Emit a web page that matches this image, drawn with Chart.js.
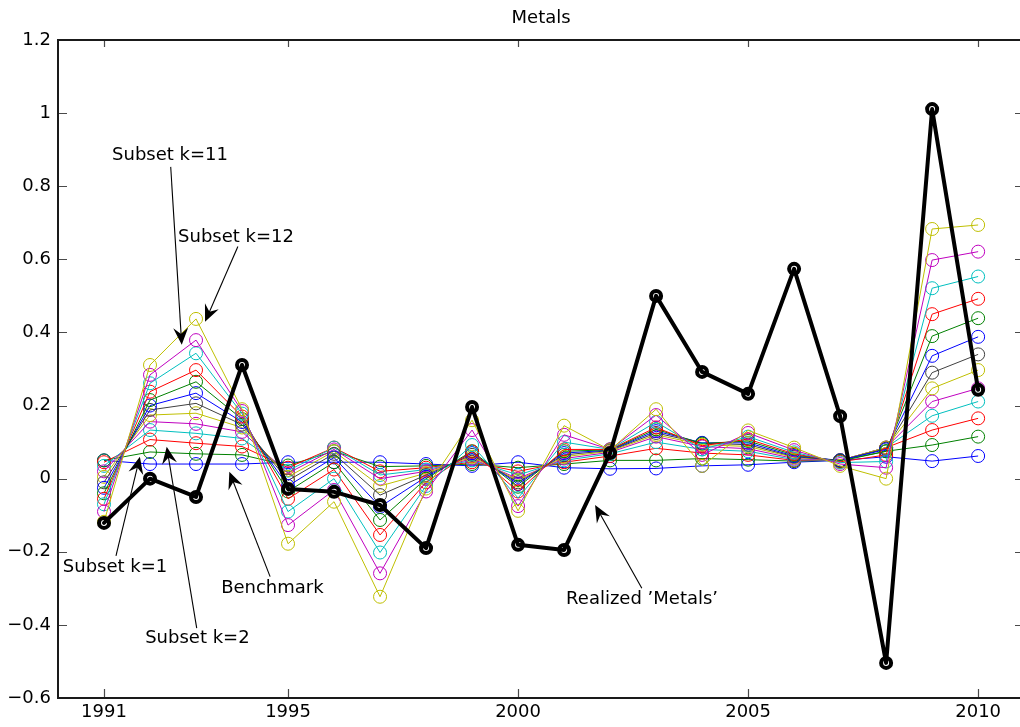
<!DOCTYPE html>
<html>
<head>
<meta charset="utf-8">
<title>Metals</title>
<script src="https://cdn.jsdelivr.net/npm/chart.js@4.4.1/dist/chart.umd.min.js"></script>
<style>
  html, body { margin: 0; padding: 0; background: #ffffff; overflow: hidden; }
  #chart { display: block; width: 1020px; height: 727px; }
</style>
</head>
<body>
<canvas id="chart" width="1020" height="727"></canvas>
<script>
// ---- data -------------------------------------------------------------
const years = [1991, 1992, 1993, 1994, 1995, 1996, 1997, 1998, 1999, 2000,
               2001, 2002, 2003, 2004, 2005, 2006, 2007, 2008, 2009, 2010];
const xTickYears = [1991, 1995, 2000, 2005, 2010];
const yTickValues = [-0.6, -0.4, -0.2, 0, 0.2, 0.4, 0.6, 0.8, 1, 1.2];

const realized  = [-0.121, 0.000, -0.050, 0.311, -0.028, -0.036, -0.072, -0.190, 0.196, -0.181,
                   -0.195, 0.070, 0.500, 0.292, 0.232, 0.574, 0.171, -0.504, 1.011, 0.243];
const benchmark = [0.050, 0.040, 0.040, 0.040, 0.045, 0.045, 0.045, 0.040, 0.035, 0.045,
                   0.030, 0.027, 0.028, 0.035, 0.038, 0.045, 0.050, 0.060, 0.048, 0.062];
const subsetK1  = [0.050, 0.073, 0.068, 0.065, 0.036, 0.075, 0.033, 0.035, 0.040, 0.030,
                   0.040, 0.050, 0.050, 0.055, 0.052, 0.048, 0.050, 0.075, 0.092, 0.115];
const subsetK2  = [0.045, 0.107, 0.097, 0.088, 0.030, 0.085, 0.020, 0.030, 0.045, 0.020,
                   0.045, 0.062, 0.083, 0.070, 0.065, 0.050, 0.050, 0.085, 0.133, 0.165];
const subsetK3  = [0.035, 0.133, 0.124, 0.110, 0.022, 0.085, 0.010, 0.025, 0.050, 0.010,
                   0.050, 0.068, 0.100, 0.080, 0.075, 0.052, 0.050, 0.085, 0.172, 0.211];
const subsetK4  = [0.020, 0.156, 0.150, 0.128, 0.015, 0.080, 0.000, 0.020, 0.055, 0.000,
                   0.055, 0.072, 0.115, 0.088, 0.082, 0.055, 0.050, 0.085, 0.211, 0.247];
const subsetK5  = [0.005, 0.174, 0.179, 0.140, 0.005, 0.075, -0.020, 0.015, 0.060, -0.005,
                   0.060, 0.075, 0.120, 0.093, 0.088, 0.058, 0.050, 0.085, 0.247, 0.297];
const subsetK6  = [-0.010, 0.188, 0.206, 0.148, -0.005, 0.068, -0.045, 0.010, 0.065, -0.010,
                   0.065, 0.077, 0.125, 0.097, 0.093, 0.060, 0.050, 0.082, 0.290, 0.340];
const subsetK7  = [-0.025, 0.200, 0.234, 0.155, -0.020, 0.058, -0.077, 0.005, 0.070, -0.015,
                   0.070, 0.078, 0.130, 0.098, 0.098, 0.062, 0.050, 0.080, 0.336, 0.388];
const subsetK8  = [-0.040, 0.215, 0.265, 0.163, -0.035, 0.045, -0.113, 0.000, 0.075, -0.022,
                   0.075, 0.079, 0.135, 0.096, 0.103, 0.065, 0.048, 0.075, 0.390, 0.439];
const subsetK9  = [-0.055, 0.238, 0.297, 0.170, -0.055, 0.025, -0.154, -0.010, 0.074, -0.035,
                   0.080, 0.080, 0.140, 0.090, 0.108, 0.068, 0.046, 0.065, 0.450, 0.492];
const subsetK10 = [-0.070, 0.261, 0.343, 0.178, -0.090, 0.000, -0.202, -0.020, 0.092, -0.053,
                   0.100, 0.080, 0.155, 0.080, 0.115, 0.072, 0.044, 0.047, 0.521, 0.553];
const subsetK11 = [-0.090, 0.284, 0.379, 0.185, -0.127, -0.031, -0.259, -0.035, 0.133, -0.075,
                   0.120, 0.080, 0.174, 0.065, 0.125, 0.078, 0.040, 0.030, 0.598, 0.621];
const subsetK12 = [-0.118, 0.311, 0.437, 0.190, -0.178, -0.063, -0.323, -0.027, 0.160, -0.088,
                   0.145, 0.078, 0.190, 0.035, 0.132, 0.085, 0.035, 0.000, 0.683, 0.694];

// benchmark first, then subsets k = 1..12 (same colour cycle as the plot order)
const forecastSeries = [benchmark, subsetK1, subsetK2, subsetK3, subsetK4, subsetK5, subsetK6,
                        subsetK7, subsetK8, subsetK9, subsetK10, subsetK11, subsetK12];
const forecastNames = ['Benchmark', 'Subset k=1', 'Subset k=2', 'Subset k=3', 'Subset k=4',
                       'Subset k=5', 'Subset k=6', 'Subset k=7', 'Subset k=8', 'Subset k=9',
                       'Subset k=10', 'Subset k=11', 'Subset k=12'];
const colorCycle = ['#0000ff', '#008000', '#ff0000', '#00bfbf', '#bf00bf', '#bfbf00', '#404040'];

// visible x window (the right side of the box is cut by the canvas edge)
const xAxisMin = 1990;
const xAxisMax = 2010.91;

// callouts: text centre, arrow tail and arrow tip, all in data units (year, value)
const callouts = [
  { text: 'Subset k=11',        at: [1992.435, 0.884], tail: [1992.45, 0.853], tip: [1992.69, 0.366] },
  { text: 'Subset k=12',        at: [1993.87, 0.661],  tail: [1993.91, 0.635], tip: [1993.196, 0.429] },
  { text: 'Subset k=1',         at: [1991.24, -0.243], tail: [1991.26, -0.211], tip: [1991.78, 0.060] },
  { text: 'Subset k=2',         at: [1993.03, -0.438], tail: [1993.015, -0.409], tip: [1992.363, 0.0875] },
  { text: 'Benchmark',          at: [1994.66, -0.299], tail: [1994.61, -0.268], tip: [1993.724, 0.019] },
  { text: 'Realized \u2019Metals\u2019', at: [2002.696, -0.329], tail: [2002.69, -0.300], tip: [2001.674, -0.072] }
];

const FONT = '"DejaVu Sans", "Liberation Sans", Arial, sans-serif';

// ---- datasets ---------------------------------------------------------
const toPoints = arr => arr.map((v, i) => ({ x: years[i], y: v }));

const datasets = [{
  label: 'Realized Metals',
  data: toPoints(realized),
  borderColor: '#000000',
  borderWidth: 4,
  borderJoinStyle: 'round',
  borderCapStyle: 'round',
  pointRadius: 5,
  pointBorderWidth: 4,
  pointBackgroundColor: 'rgba(0,0,0,0)',
  pointBorderColor: '#000000',
  order: 0
}];
forecastSeries.forEach((arr, k) => {
  const col = colorCycle[k % colorCycle.length];
  datasets.push({
    label: forecastNames[k],
    data: toPoints(arr),
    borderColor: col,
    borderWidth: 1,
    borderJoinStyle: 'round',
    pointRadius: 6.5,
    pointBorderWidth: 1,
    pointBackgroundColor: 'rgba(0,0,0,0)',
    pointBorderColor: col,
    order: forecastSeries.length - k
  });
});

// ---- axes box, inward ticks, title and callouts -----------------------
function drawArrow(ctx, x0, y0, x1, y1) {
  const ang = Math.atan2(y1 - y0, x1 - x0);
  ctx.beginPath();
  ctx.moveTo(x0, y0);
  ctx.lineTo(x1 - Math.cos(ang) * 10, y1 - Math.sin(ang) * 10);
  ctx.stroke();
  ctx.save();
  ctx.translate(x1, y1);
  ctx.rotate(ang);
  ctx.beginPath();
  ctx.moveTo(0, 0);
  ctx.lineTo(-17, -7.5);
  ctx.lineTo(-11, 0);
  ctx.lineTo(-17, 7.5);
  ctx.closePath();
  ctx.fill();
  ctx.restore();
}

const matlabFrame = {
  id: 'matlabFrame',
  afterDatasetsDraw(chart) {
    const { ctx, chartArea: a, scales: { x, y } } = chart;
    ctx.save();

    // inward tick marks: bottom, top, left, and the stubs reaching in from the cut right side
    ctx.strokeStyle = '#4a4a4a';
    ctx.lineWidth = 1.2;
    const len = 9;
    ctx.beginPath();
    xTickYears.forEach(v => {
      const px = Math.round(x.getPixelForValue(v)) + 0.5;
      ctx.moveTo(px, a.bottom); ctx.lineTo(px, a.bottom - len);
      ctx.moveTo(px, a.top);    ctx.lineTo(px, a.top + len - 2);
    });
    yTickValues.forEach(v => {
      const py = Math.round(y.getPixelForValue(v)) + 0.5;
      ctx.moveTo(a.left, py);  ctx.lineTo(a.left + len, py);
      ctx.moveTo(a.right, py); ctx.lineTo(a.right - 5, py);
    });
    ctx.stroke();

    // axes lines (left, top, bottom)
    ctx.strokeStyle = '#1a1a1a';
    ctx.lineWidth = 2;
    ctx.beginPath();
    ctx.moveTo(a.right + 2, a.top);
    ctx.lineTo(a.left, a.top);
    ctx.lineTo(a.left, a.bottom);
    ctx.lineTo(a.right + 2, a.bottom);
    ctx.stroke();

    // title
    ctx.fillStyle = '#000000';
    ctx.font = '18px ' + FONT;
    ctx.textAlign = 'center';
    ctx.textBaseline = 'middle';
    ctx.fillText('Metals', (x.getPixelForValue(xAxisMin) + x.getPixelForValue(2011)) / 2, 18);

    // callouts with arrows
    ctx.strokeStyle = '#000000';
    ctx.fillStyle = '#000000';
    ctx.lineWidth = 1.1;
    callouts.forEach(c => {
      const tx = x.getPixelForValue(c.tail[0]), ty = y.getPixelForValue(c.tail[1]);
      const hx = x.getPixelForValue(c.tip[0]),  hy = y.getPixelForValue(c.tip[1]);
      drawArrow(ctx, tx, ty, hx, hy);
      ctx.fillText(c.text, x.getPixelForValue(c.at[0]), y.getPixelForValue(c.at[1]));
    });
    ctx.restore();
  }
};

const fmtY = v => {
  const r = Math.round(v * 10) / 10;
  return String(r).replace('-', '\u2212');
};

new Chart(document.getElementById('chart'), {
  type: 'line',
  data: { datasets },
  options: {
    responsive: false,
    maintainAspectRatio: false,
    devicePixelRatio: 1,
    animation: false,
    events: [],
    // no automatic room for marker overflow: the box runs to the canvas edge
    layout: { autoPadding: false, padding: { top: 40, right: 0, left: 0, bottom: 0 } },
    plugins: { legend: { display: false }, tooltip: { enabled: false }, title: { display: false } },
    elements: { line: { tension: 0 } },
    scales: {
      x: {
        type: 'linear',
        min: xAxisMin,
        max: xAxisMax,
        grid: { display: false, drawTicks: false },
        border: { display: false },
        afterBuildTicks: s => { s.ticks = xTickYears.map(v => ({ value: v })); },
        afterFit: s => { s.height = 29; s.paddingLeft = 0; s.paddingRight = 0; },
        ticks: {
          autoSkip: false,
          maxRotation: 0,
          padding: 4,
          color: '#000000',
          font: { family: FONT, size: 18 },
          callback: v => String(v)
        }
      },
      y: {
        type: 'linear',
        min: -0.6,
        max: 1.2,
        grid: { display: false, drawTicks: false },
        border: { display: false },
        afterBuildTicks: s => { s.ticks = yTickValues.map(v => ({ value: v })); },
        afterFit: s => { s.width = 58; },
        ticks: {
          autoSkip: false,
          padding: 7,
          color: '#000000',
          font: { family: FONT, size: 18 },
          callback: v => fmtY(v)
        }
      }
    }
  },
  plugins: [matlabFrame]
});
</script>
</body>
</html>
